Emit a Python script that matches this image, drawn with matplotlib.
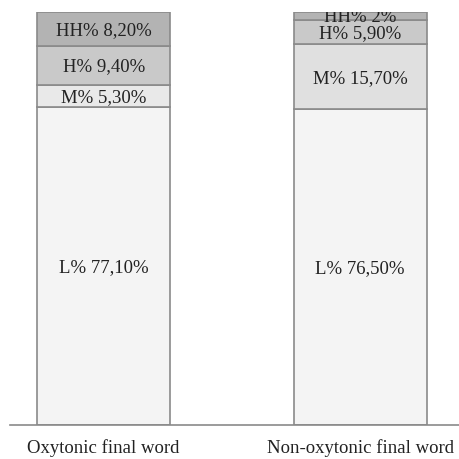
import matplotlib.pyplot as plt
import numpy as np

categories = ['Oxytonic final word', 'Non-oxytonic final word']
segments = ['L', 'M', 'H', 'HH']
values = {
    'L': [77.1, 76.5],
    'M': [5.3, 15.7],
    'H': [9.4, 5.9],
    'HH': [8.2, 2.0],
}
labels = {
    'L': ['L% 77,10%', 'L% 76,50%'],
    'M': ['M% 5,30%', 'M% 15,70%'],
    'H': ['H% 9,40%', 'H% 5,90%'],
    'HH': ['HH% 8,20%', 'HH% 2%'],
}
colors = {
    'L': ['#f4f4f4', '#f4f4f4'],
    'M': ['#e9e9e9', '#e0e0e0'],
    'H': ['#c9c9c9', '#c9c9c9'],
    'HH': ['#b3b3b3', '#b3b3b3'],
}

plt.rcParams['font.family'] = ['Liberation Serif', 'DejaVu Serif']

fig = plt.figure(figsize=(4.6, 4.59), dpi=100)
ax = fig.add_axes([10 / 460, 34 / 459, 450 / 460, 413 / 459])

x = np.arange(len(categories))
bottom = np.zeros(len(categories))
for seg in segments:
    v = np.array(values[seg])
    ax.bar(x, v, width=0.518, bottom=bottom, color=colors[seg],
           edgecolor='#8a8a8a', linewidth=1.2)
    for i in range(len(x)):
        # small top segment label is partly cut off at the top, like the original
        ax.text(x[i], bottom[i] + v[i] / 2 - 0.4, labels[seg][i], ha='center',
                va='center', fontsize=13.5, color='#222222', clip_on=True)
    bottom += v

ax.set_xlim(-0.365, 1.389)
ax.set_ylim(0, 100)
for s in ['top', 'right', 'left']:
    ax.spines[s].set_visible(False)
ax.spines['bottom'].set_color('#8a8a8a')
ax.spines['bottom'].set_linewidth(1.2)
ax.set_yticks([])
ax.set_xticks(x)
ax.set_xticklabels(categories, fontsize=13.5, color='#222222')
ax.tick_params(axis='x', length=0, pad=10)

fig.savefig('out.png', dpi=100)
